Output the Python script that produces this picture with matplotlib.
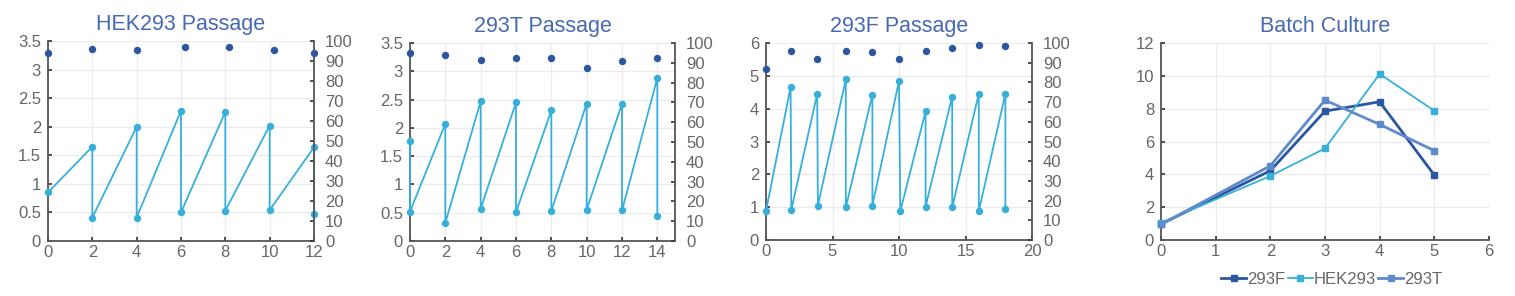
import numpy as np
import matplotlib
matplotlib.use("Agg")
import matplotlib.pyplot as plt

plt.rcParams['font.family'] = ['Liberation Sans', 'DejaVu Sans']

# ---- data -------------------------------------------------------------
# HEK293 passage: cell density (left axis) and viability % (right axis)
hek_x = [0, 2, 2, 4, 4, 6, 6, 8, 8, 10, 10, 12, 12]
hek_density = [0.85, 1.65, 0.41, 2.0, 0.41, 2.28, 0.50, 2.26, 0.53, 2.02, 0.54, 1.64, 0.47]
hek_via_x = [0, 2, 4, 6.2, 8.15, 10.2, 12]
hek_via = [94.1, 95.8, 95.3, 97.0, 97.0, 95.3, 93.8]

# 293T passage
t_x = [0, 0, 2, 2, 4, 4, 6, 6, 8, 8, 10, 10, 12, 12, 14, 14]
t_density = [1.77, 0.52, 2.07, 0.32, 2.47, 0.57, 2.45, 0.51, 2.31, 0.53,
             2.43, 0.55, 2.43, 0.54, 2.88, 0.45]
t_via_x = [0, 2, 4, 6, 8, 10, 12, 14]
t_via = [95.1, 94.1, 91.6, 92.6, 92.3, 87.5, 91.1, 92.4]

# 293F passage
f_x = [0, 1.85, 1.9, 3.85, 3.9, 6, 6, 8, 8, 10, 10.1, 12, 12, 14, 14,
       16, 16, 18, 18]
f_density = [0.88, 4.66, 0.91, 4.45, 1.05, 4.89, 0.99, 4.43, 1.05, 4.84, 0.88,
             3.92, 1.02, 4.37, 0.99, 4.46, 0.88, 4.46, 0.94]
f_via_x = [0, 1.85, 3.85, 6, 8, 10, 12, 14, 16, 18]
f_via = [87.0, 95.9, 91.9, 95.9, 95.2, 91.7, 95.7, 97.6, 98.8, 98.3]

# batch culture
batch_days = [0, 2, 3, 4, 5]
batch_293f = [0.97, 4.22, 7.85, 8.42, 3.95]
batch_hek293 = [1.05, 3.9, 5.58, 10.12, 7.87]
batch_293t = [0.95, 4.52, 8.52, 7.04, 5.44]

# ---- style ------------------------------------------------------------
DARK = '#2c56a0'
LIGHT = '#36b0da'
MID = '#5f8bcc'
TITLE = '#4868b4'
TICK = '#666666'
SPINE = '#555555'
GRID = '#ebebeb'
FS = 12

W, H = 1515, 296
fig = plt.figure(figsize=(W / 100, H / 100), dpi=100)


def px_axes(l, r, t, b):
    return fig.add_axes([l / W, 1 - b / H, (r - l) / W, (b - t) / H])


def style(ax):
    for s in ['top', 'right']:
        ax.spines[s].set_visible(False)
    for s in ['left', 'bottom']:
        ax.spines[s].set_color(SPINE)
        ax.spines[s].set_linewidth(1.3)
    ax.tick_params(direction='in', length=3, width=1.2, color='#333333',
                   labelsize=FS, labelcolor=TICK)
    ax.tick_params(axis='x', pad=3)
    ax.tick_params(axis='y', pad=5)
    ax.grid(True, color=GRID, linewidth=0.9)
    ax.set_axisbelow(True)


def passage(box, title, x, dens, vx, via, xlim, xticks, ylim, yticks):
    ax = px_axes(*box)
    style(ax)
    ax.plot(x, dens, color=LIGHT, lw=1.3, marker='o', ms=4.3, clip_on=False, zorder=3)
    ax.set_xlim(*xlim)
    ax.set_ylim(*ylim)
    ax.set_xticks(xticks)
    ax.set_yticks(yticks)
    ax.set_yticklabels([f'{v:g}' for v in yticks])
    ax.set_title(title, color=TITLE, fontsize=15.5, pad=8)
    ax2 = ax.twinx()
    for s in ['top', 'left', 'bottom']:
        ax2.spines[s].set_visible(False)
    ax2.spines['right'].set_color(SPINE)
    ax2.spines['right'].set_linewidth(1.3)
    ax2.tick_params(direction='in', length=3, width=1.2, color='#333333',
                    labelsize=FS, labelcolor=TICK, pad=8)
    ax2.plot(vx, via, 'o', color=DARK, ms=4.3, clip_on=False, zorder=3)
    ax2.set_ylim(0, 100)
    ax2.set_yticks(range(0, 101, 10))
    return ax


passage((48, 314, 41, 241), 'HEK293 Passage', hek_x, hek_density, hek_via_x, hek_via,
        (0, 12), range(0, 13, 2), (0, 3.5), np.arange(0, 3.51, 0.5))
passage((410, 675, 43, 241), '293T Passage', t_x, t_density, t_via_x, t_via,
        (0, 15), range(0, 15, 2), (0, 3.5), np.arange(0, 3.51, 0.5))
passage((766, 1032, 43, 240), '293F Passage', f_x, f_density, f_via_x, f_via,
        (0, 20), range(0, 21, 5), (0, 6), range(0, 7))

ax = px_axes(1161, 1489, 43, 240)
style(ax)
ax.plot(batch_days, batch_293f, color=DARK, lw=2.0, marker='s', ms=5, label='293F',
        clip_on=False, zorder=3)
ax.plot(batch_days, batch_hek293, color=LIGHT, lw=1.3, marker='s', ms=5, label='HEK293',
        clip_on=False, zorder=3)
ax.plot(batch_days, batch_293t, color=MID, lw=2.0, marker='s', ms=5, label='293T',
        clip_on=False, zorder=4)
ax.set_xlim(0, 6)
ax.set_ylim(0, 12)
ax.set_xticks(range(0, 7))
ax.set_yticks(range(0, 13, 2))
ax.set_title('Batch Culture', color=TITLE, fontsize=15.5, pad=8)
leg = ax.legend(loc='center', bbox_to_anchor=(0.52, -0.2), ncol=3, frameon=False,
                fontsize=FS, handlelength=1.5, handletextpad=0.05, columnspacing=0.15,
                borderaxespad=0, borderpad=0)
for t in leg.get_texts():
    t.set_color(TICK)

fig.savefig('out.png', dpi=100)
